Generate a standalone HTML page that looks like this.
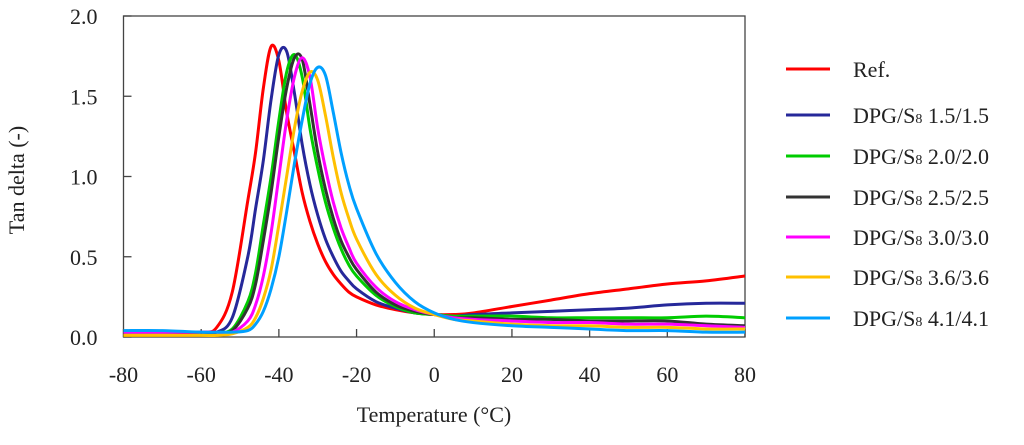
<!DOCTYPE html>
<html><head><meta charset="utf-8"><style>
body{margin:0;background:#fff}
svg text{font-family:"Liberation Serif",serif;fill:#222}
</style></head><body>
<svg id="chart" width="1024" height="440" viewBox="0 0 1024 440" xmlns="http://www.w3.org/2000/svg">
<g id="axes"></g>
<g id="series"></g>
<g id="legend"></g>
<text x="434" y="422" font-size="22" text-anchor="middle">Temperature (°C)</text>
<text transform="translate(24,180) rotate(-90)" font-size="22" text-anchor="middle">Tan delta (-)</text>
</svg>
<script>
const temps=[-80,-70,-60,-56,-52,-48,-46,-44,-42,-40,-38,-36,-34,-32,-30,-28,-26,-24,-22,-20,-15,-10,-5,0,5,10,20,30,40,50,60,70,80];
const ref=[.03,.03,.03,.06,.28,.85,1.15,1.55,1.81,1.72,1.40,1.15,.90,.72,.58,.47,.39,.33,.28,.25,.20,.17,.15,.14,.14,.15,.19,.23,.27,.30,.33,.35,.38];
const dpg15=[.03,.03,.03,.03,.12,.50,.80,1.10,1.48,1.76,1.78,1.52,1.20,.95,.76,.61,.50,.41,.35,.30,.22,.18,.15,.14,.13,.14,.15,.16,.17,.18,.20,.21,.21];
const dpg20=[.03,.03,.03,.03,.05,.22,.40,.70,1.00,1.35,1.65,1.76,1.62,1.30,1.05,.84,.68,.55,.45,.38,.26,.19,.15,.14,.13,.13,.13,.12,.12,.12,.12,.13,.12];
const dpg25=[.03,.03,.03,.03,.04,.18,.33,.60,.90,1.25,1.55,1.74,1.73,1.45,1.15,.92,.74,.60,.50,.42,.28,.20,.16,.14,.12,.12,.11,.11,.10,.10,.10,.08,.07];
const dpg30=[.03,.03,.03,.03,.03,.10,.20,.38,.65,1.00,1.35,1.62,1.74,1.62,1.30,1.05,.84,.68,.56,.46,.31,.22,.17,.14,.12,.11,.10,.09,.09,.08,.08,.07,.06];
const dpg36=[.01,.01,.01,.01,.02,.06,.12,.24,.42,.70,1.00,1.30,1.53,1.65,1.60,1.38,1.12,.90,.74,.61,.39,.26,.18,.14,.11,.10,.08,.07,.07,.06,.06,.05,.05];
const dpg41=[.04,.04,.03,.03,.03,.04,.08,.16,.30,.50,.78,1.08,1.35,1.58,1.68,1.63,1.40,1.15,.95,.80,.52,.34,.22,.15,.11,.09,.07,.06,.05,.04,.04,.03,.03];
const seriesNames=["Ref.","DPG/S8 1.5/1.5","DPG/S8 2.0/2.0","DPG/S8 2.5/2.5","DPG/S8 3.0/3.0","DPG/S8 3.6/3.6","DPG/S8 4.1/4.1"];
const seriesVals=[ref,dpg15,dpg20,dpg25,dpg30,dpg36,dpg41];
const colors=["#ff0000","#26289a","#00cc00","#333333","#ff00ff","#ffc000","#00a0ff"];
const xTicks=[-80,-60,-40,-20,0,20,40,60,80];
const yTicks=[0,0.5,1.0,1.5,2.0];
const X0=123.5,X1=745,Y0=337,Y1=16;
const sx=t=>X0+(t+80)/160*(X1-X0);
const sy=v=>Y0-v/2*(Y0-Y1);
const NS="http://www.w3.org/2000/svg";
function mk(tag,attrs,parent){const e=document.createElementNS(NS,tag);for(const k in attrs)e.setAttribute(k,attrs[k]);parent.appendChild(e);return e;}
const axes=document.getElementById('axes');
const frame=mk('rect',{x:X0,y:Y1,width:X1-X0,height:Y0-Y1,fill:'none',stroke:'#444','stroke-width':1.3},axes);


xTicks.forEach(t=>{
 const l=mk('line',{x1:sx(t),x2:sx(t),y1:Y0,y2:Y0-8,stroke:'#444','stroke-width':1.3},axes);
 
 
 const tx=mk('text',{x:sx(t),y:Y0+45,'font-size':22,'text-anchor':'middle'},axes);
 tx.textContent=t;
 
 
});
yTicks.forEach(v=>{
 const l=mk('line',{x1:X0,x2:X0+8,y1:sy(v),y2:sy(v),stroke:'#444','stroke-width':1.3},axes);
 
 
 const tx=mk('text',{x:X0-26,y:sy(v)+8,'font-size':22,'text-anchor':'end'},axes);
 tx.textContent=v.toFixed(1);
 
 
});
function pathOf(vals){
 const p=temps.map((t,i)=>[sx(t),sy(vals[i])]);
 let d='M'+p[0][0]+','+p[0][1];
 for(let i=0;i<p.length-1;i++){
  const a=p[i-1]||p[i],b=p[i],c=p[i+1],e=p[i+2]||c;
  const c1=[b[0]+(c[0]-a[0])/6,b[1]+(c[1]-a[1])/6],c2=[c[0]-(e[0]-b[0])/6,c[1]-(e[1]-b[1])/6];
  d+=` C${c1[0]},${c1[1]} ${c2[0]},${c2[1]} ${c[0]},${c[1]}`;
 }
 return d;
}
const sg=document.getElementById('series');
const lg=document.getElementById('legend');
const legendY=[69,115,156,197,237,277,318];
seriesVals.forEach((vals,i)=>{
 const pth=mk('path',{d:pathOf(vals),fill:'none',stroke:colors[i],'stroke-width':3,'stroke-linejoin':'round'},sg);
 
 
 const ln=mk('line',{x1:786,x2:830,y1:legendY[i],y2:legendY[i],stroke:colors[i],'stroke-width':3},lg);
 
 
 const tx=mk('text',{x:853,y:legendY[i]+8,'font-size':22},lg);
 
 
 const nm=seriesNames[i];
 if(nm.startsWith('DPG/S8')){
  tx.appendChild(document.createTextNode('DPG/S'));
  const sub=mk('tspan',{'font-size':14},tx);sub.textContent='8';
  tx.appendChild(document.createTextNode(' '+nm.slice(7)));
 } else tx.textContent=nm;
});
</script>
</body></html>
